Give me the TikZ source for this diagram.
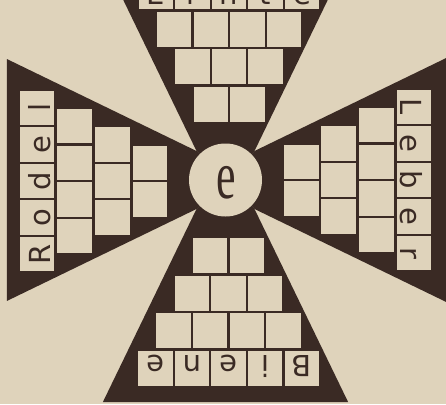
\documentclass[tikz,border=0pt]{standalone}
\usepackage{fontspec}
\setsansfont{DejaVu Sans}
\newfontfamily\hubfont{Liberation Serif}
\usetikzlibrary{positioning}
\definecolor{paper}{HTML}{DFD3BB}
\definecolor{ink}{HTML}{3A2A24}

\begin{document}
\begin{tikzpicture}[x=1pt, y=1pt,
    cell/.style={fill=paper, draw=none, inner sep=0pt,
      minimum width=34.4pt, minimum height=34.8pt,
      text height=26pt, text depth=0pt, text=ink,
      font=\sffamily\fontsize{29}{29}\selectfont},
    arm/.style={fill=ink, draw=none},
    hub/.style={circle, fill=paper, draw=none, minimum size=73pt, inner sep=0pt}]
  \useasboundingbox (-225.5,-224) rectangle (220.5,180);
  \fill[paper] (-225.5,-224) rectangle (220.5,180);
  \clip (-225.5,-224) rectangle (220.5,180);
  % angle / cell shift / arm length / word / name
  \foreach \ang/\sh/\len/\word/\side in {0/3.5/260/{E,r,n,t,e}/top,
      90/-1/218.5/{R,o,d,e,l}/left, 180/-3/222/{B,i,e,n,e}/bottom,
      -90/0/260/{L,e,b,e,r}/right} {
    \begin{scope}[rotate=\ang, transform shape]
      \fill[arm] (0,0) -- (-29,29) -- ({-(29+0.485*(\len-29))},\len)
        -- ({29+0.485*(\len-29)},\len) -- (29,29) -- cycle;
      \begin{scope}[xshift=\sh]
        \foreach \k in {2,3,4}
          \foreach \i in {1,...,\k}
            \node[cell] (\side-\k-\i) at ({(\i-(\k+1)/2)*36.6}, {75.6+37.6*(\k-2)}) {};
        \foreach \ch [count=\i] in \word
          \node[cell] (\side-5-\i) at ({(\i-3)*36.6}, 188.4) {\ch};
      \end{scope}
    \end{scope}
  }
  \node[hub] (hub) at (0,0) {};
  \node[text=ink, inner sep=0pt, yscale=1.55, font=\hubfont\fontsize{44}{44}\selectfont]
    (letter) at (0.8,-3) {e};
\end{tikzpicture}
\end{document}
